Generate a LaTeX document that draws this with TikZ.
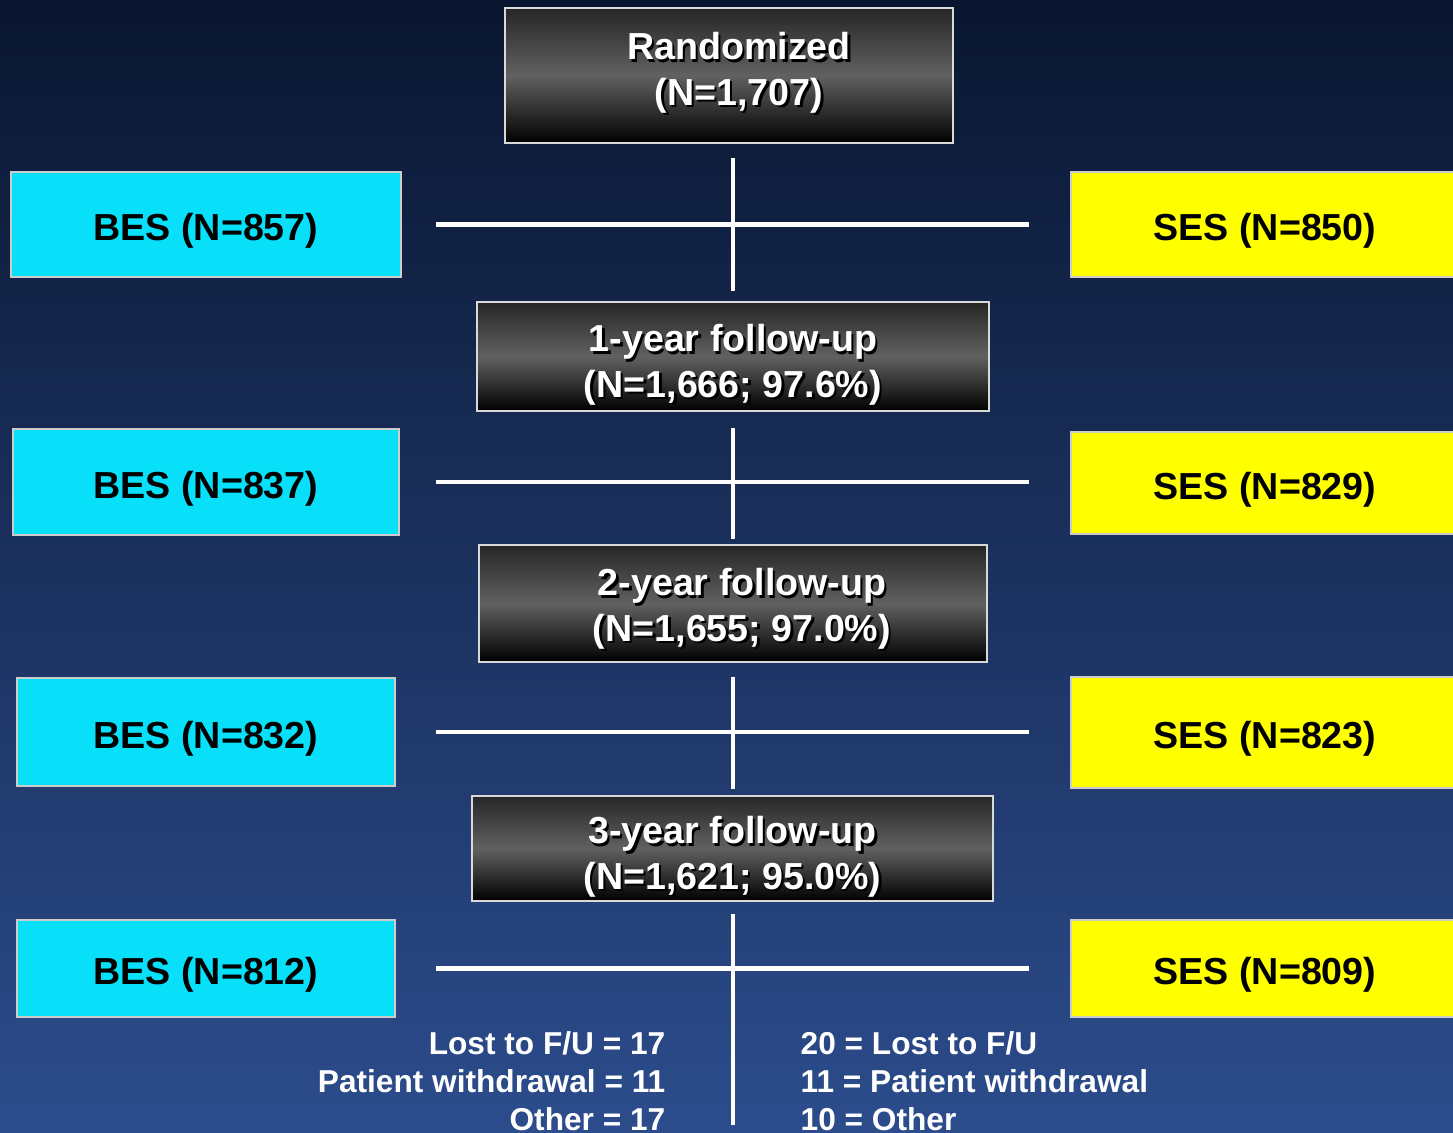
\documentclass[tikz,border=0pt]{standalone}
\usepackage{fontspec}
\setmainfont{Liberation Sans}
\definecolor{bgtop}{RGB}{10,22,48}
\definecolor{bgbot}{RGB}{44,76,140}
\definecolor{besc}{RGB}{8,224,250}
\definecolor{sesc}{RGB}{255,255,0}
\usetikzlibrary{positioning}
% white text with a dark drop shadow
\newcommand{\shd}[1]{\leavevmode\rlap{\kern0.7pt\raisebox{-0.7pt}{\color{black}#1}}#1}

\begin{document}
\begin{tikzpicture}[x=0.01cm,y=-0.01cm,
  darkbox/.style={draw=white!85!black,line width=0.6pt,top color=black!85,bottom color=black,middle color=black!62,text=white,font=\bfseries\fontsize{10.7}{13}\selectfont,align=center,inner sep=0pt,text depth=0pt},
  besbox/.style={draw=white!80!black,line width=0.6pt,fill=besc,font=\bfseries\fontsize{10.7}{13}\selectfont,inner sep=0pt,text height=9.1pt,text depth=0pt},
  sesbox/.style={draw=white!80!black,line width=0.6pt,fill=sesc,font=\bfseries\fontsize{10.7}{13}\selectfont,inner sep=0pt,text height=9.1pt,text depth=0pt,minimum width=3.88cm},
  link/.style={white,line width=1.2pt},
  note/.style={text=white,font=\bfseries\fontsize{9}{10.8}\selectfont,inner sep=0pt}]
  % background
  \shade[top color=bgtop,bottom color=bgbot] (0,0) rectangle (1453,1133);
  \useasboundingbox (0,0) rectangle (1453,1133);
  % main flow
  \node[darkbox,text height=17pt,minimum width=4.48cm,minimum height=1.35cm] (rand) at (729,75.5) {\hspace*{0.2cm}\shd{Randomized}\\\hspace*{0.2cm}\shd{(N=1,707)}};
  \node[darkbox,text height=23.3pt,minimum width=5.12cm,minimum height=1.09cm] (yr1) at (733,356.5) {\shd{1-year follow-up}\\\shd{(N=1,666; 97.6\%)}};
  \node[darkbox,text height=21.6pt,minimum width=5.08cm,minimum height=1.17cm] (yr2) at (733,603.5) {\hspace*{0.18cm}\shd{2-year follow-up}\\\hspace*{0.18cm}\shd{(N=1,655; 97.0\%)}};
  \node[darkbox,text height=23.3pt,minimum width=5.21cm,minimum height=1.05cm] (yr3) at (732.5,848.5) {\shd{3-year follow-up}\\\shd{(N=1,621; 95.0\%)}};
  \coordinate (tail) at (733,1133);
  % BES arm
  \node[besbox,minimum width=3.90cm,minimum height=1.05cm] (bes1) at (206,224.5) {BES (N=857)};
  \node[besbox,minimum width=3.86cm,minimum height=1.06cm] (bes2) at (206,482) {BES (N=837)};
  \node[besbox,minimum width=3.78cm,minimum height=1.08cm] (bes3) at (206,732) {BES (N=832)};
  \node[besbox,minimum width=3.78cm,minimum height=0.97cm] (bes4) at (206,968.5) {BES (N=812)};
  % SES arm
  \node[sesbox,minimum height=1.05cm] (ses1) at (1265,224.5) {SES (N=850)};
  \node[sesbox,minimum height=1.02cm] (ses2) at (1265,483) {SES (N=829)};
  \node[sesbox,minimum height=1.11cm] (ses3) at (1265,732.5) {SES (N=823)};
  \node[sesbox,minimum height=0.97cm] (ses4) at (1265,968.5) {SES (N=809)};
  % vertical links
  \draw[link,shorten <=0.14cm,shorten >=0.10cm] (rand.south -| yr1.north) -- (yr1.north);
  \draw[link,shorten <=0.16cm,shorten >=0.05cm] (yr1.south) -- (yr2.north);
  \draw[link,shorten <=0.14cm,shorten >=0.06cm] (yr2.south) -- (yr3.north -| yr2.south);
  \draw[link,shorten <=0.12cm,shorten >=0.08cm] (yr3.south -| yr2.south) -- (tail);
  % horizontal links
  \foreach \i/\s in {1/0.34,2/0.36,3/0.40,4/0.40}{
    \draw[link,shorten <=\s cm,shorten >=0.41cm] (bes\i.east) -- (bes\i.east -| ses\i.west);
  }
  % losses
  \node[note,align=right,anchor=east] (lossbes) at (666,1081) {Lost to F/U = 17\\Patient withdrawal = 11\\Other = 17};
  \node[note,align=left,anchor=west] (lossses) at (800,1081) {20 = Lost to F/U\\11 = Patient withdrawal\\10 = Other};
\end{tikzpicture}
\end{document}
